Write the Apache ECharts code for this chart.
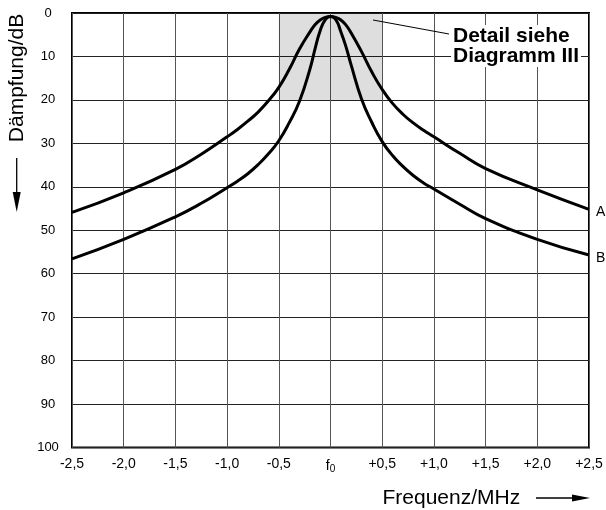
<!DOCTYPE html>
<html>
<head>
<meta charset="utf-8">
<script src="https://cdn.jsdelivr.net/npm/echarts@6/dist/echarts.min.js"></script>
<style>
html,body{margin:0;padding:0;background:#fff;}
#chart{width:606px;height:510px;}
</style>
</head>
<body>
<div id="chart"></div>
<script>
// Frequency offsets (MHz) relative to f0
const freq = [-2.5, -2.0, -1.5, -1.25, -1.0, -0.9, -0.8, -0.7, -0.6, -0.5, -0.4, -0.3, -0.2, -0.15, -0.1, -0.05, 0,
              0.05, 0.1, 0.15, 0.2, 0.3, 0.4, 0.5, 0.6, 0.7, 0.8, 0.9, 1.0, 1.25, 1.5, 2.0, 2.5];
// Attenuation curve A (dB)
const attA = [45.9, 41.4, 36.0, 32.5, 28.5, 26.8, 24.9, 22.8, 20.2, 17.1, 13.0, 8.3, 4.4, 2.7, 1.6, 1.0, 0.8,
              1.0, 1.6, 2.8, 4.6, 8.9, 13.6, 17.6, 20.8, 23.3, 25.3, 27.0, 28.5, 32.3, 35.8, 40.7, 45.2];
// Attenuation curve B (dB)
const attB = [56.6, 52.1, 46.9, 43.8, 40.2, 38.7, 37.0, 34.9, 32.4, 29.4, 25.3, 20.3, 13.0, 8.3, 4.1, 1.5, 0.8,
              1.5, 4.3, 7.8, 12.0, 19.8, 25.2, 29.6, 32.8, 35.3, 37.4, 39.1, 40.5, 44.0, 47.3, 52.1, 55.7];
// X tick values and their labels
const xTickValues = [-2.5, -2.0, -1.5, -1.0, -0.5, 0, 0.5, 1.0, 1.5, 2.0, 2.5];
const xTickLabels = ['-2,5', '-2,0', '-1,5', '-1,0', '-0,5', 'f0', '+0,5', '+1,0', '+1,5', '+2,0', '+2,5'];
// Shaded detail region
const detailFreq = [-0.5, 0.5];
const detailAtt = [0, 20];
const seriesNames = ['A', 'B'];

const FONT = 'Liberation Sans, Arial, Helvetica, sans-serif';

const chart = echarts.init(document.getElementById('chart'), null, {renderer: 'canvas'});

function pairs(xs, ys) { return xs.map((x, i) => [x, ys[i]]); }

const option = {
  animation: false,
  backgroundColor: '#fff',
  grid: {
    left: 72, right: 17, top: 13, bottom: 62.5,
    show: true, borderColor: '#000', borderWidth: 2, backgroundColor: 'transparent'
  },
  xAxis: {
    type: 'value', min: -2.5, max: 2.5, interval: 0.5,
    axisLine: {show: false}, axisTick: {show: false},
    splitLine: {show: true, lineStyle: {color: '#555', width: 1}},
    axisLabel: {
      color: '#000', fontSize: 14, fontFamily: FONT, margin: 10,
      formatter: function (v) {
        const i = xTickValues.findIndex(t => Math.abs(t - v) < 1e-6);
        const s = i >= 0 ? xTickLabels[i] : '';
        return s === 'f0' ? '{f|f}{s|0}' : s;
      },
      rich: {
        f: {fontSize: 14, fontFamily: FONT, color: '#000'},
        s: {fontSize: 10, fontFamily: FONT, color: '#000', padding: [7, 0, 0, 0]}
      }
    }
  },
  yAxis: {
    type: 'value', inverse: true, min: 0, max: 100, interval: 10,
    axisLine: {show: false}, axisTick: {show: false},
    splitLine: {show: true, lineStyle: {color: '#222', width: 1}},
    axisLabel: {color: '#000', fontSize: 13, fontFamily: FONT, margin: 24, align: 'center'}
  },
  series: [
    {
      name: seriesNames[0], type: 'line', data: pairs(freq, attA),
      smooth: 0.5, symbol: 'none',
      lineStyle: {color: '#000', width: 3},
      endLabel: {show: true, formatter: seriesNames[0], color: '#000', fontSize: 14, fontFamily: FONT, distance: 7, offset: [0, 3]},
      markArea: {
        silent: true,
        itemStyle: {color: 'rgba(0,0,0,0.13)'},
        data: [[{xAxis: detailFreq[0], yAxis: detailAtt[0]}, {xAxis: detailFreq[1], yAxis: detailAtt[1]}]]
      }
    },
    {
      name: seriesNames[1], type: 'line', data: pairs(freq, attB),
      smooth: 0.5, symbol: 'none',
      lineStyle: {color: '#000', width: 3},
      endLabel: {show: true, formatter: seriesNames[1], color: '#000', fontSize: 14, fontFamily: FONT, distance: 7, offset: [0, 3]}
    }
  ],
  graphic: [
    {
      type: 'text', x: 17, y: 78, rotation: Math.PI / 2,
      style: {text: 'Dämpfung/dB', fontSize: 21, fontFamily: FONT, fill: '#000', align: 'center', verticalAlign: 'middle'}
    },
    {type: 'line', shape: {x1: 16.7, y1: 158, x2: 16.7, y2: 196}, style: {stroke: '#000', lineWidth: 1.3}},
    {type: 'polygon', shape: {points: [[12.7, 192], [20.7, 192], [16.7, 212]]}, style: {fill: '#000'}},
    {
      type: 'text', x: 382.5, y: 498,
      style: {text: 'Frequenz/MHz', fontSize: 21, fontFamily: FONT, fill: '#000', align: 'left', verticalAlign: 'middle'}
    },
    {type: 'line', shape: {x1: 536, y1: 498, x2: 576, y2: 498}, style: {stroke: '#000', lineWidth: 1.3}},
    {type: 'polygon', shape: {points: [[572, 494.5], [572, 501.5], [590, 498]]}, style: {fill: '#000'}},
    {type: 'line', z: 10, shape: {x1: 373, y1: 20, x2: 449, y2: 34}, style: {stroke: '#000', lineWidth: 1}},
    {
      type: 'text', x: 451, y: 25, z: 10,
      style: {text: 'Detail siehe\nDiagramm III', fontSize: 21, fontWeight: 'bold', fontFamily: FONT, fill: '#000',
        lineHeight: 20, backgroundColor: '#fff', padding: [1, 2, 1, 2], align: 'left', verticalAlign: 'top'}
    }
  ]
};
chart.setOption(option);
</script>
</body>
</html>
